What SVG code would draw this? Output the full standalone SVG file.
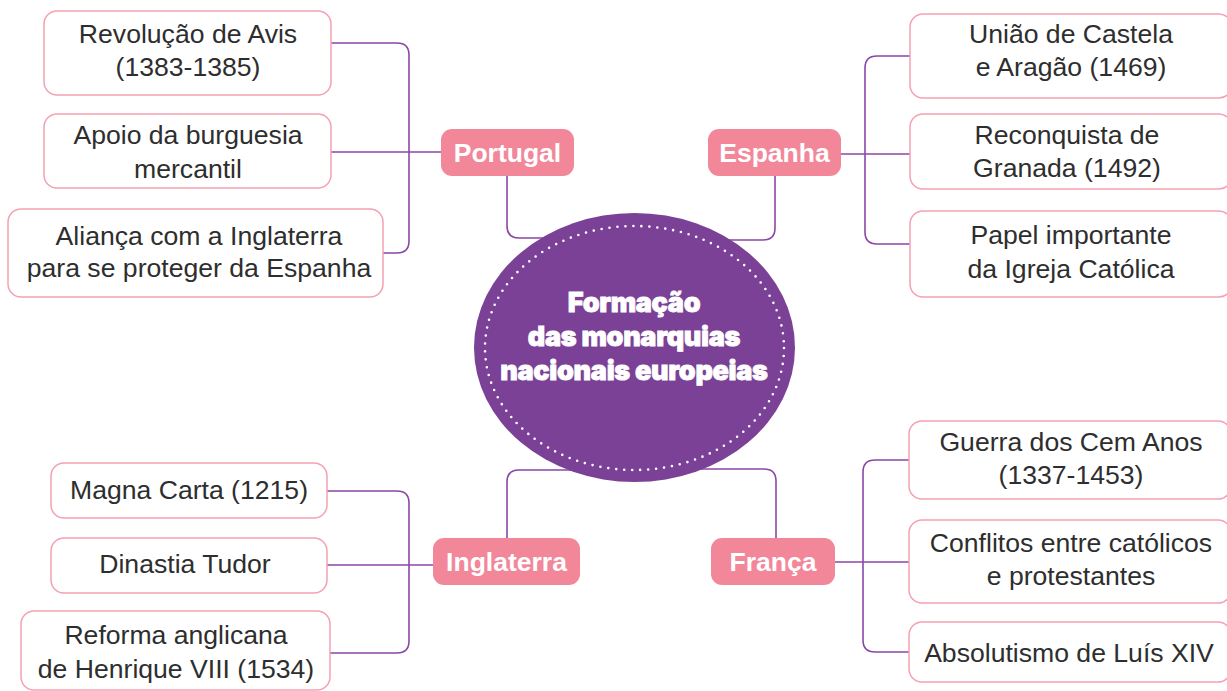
<svg xmlns="http://www.w3.org/2000/svg" width="1227" height="691" viewBox="0 0 1227 691">
<style>
.box{fill:#fff;stroke:#f4a1b2;stroke-width:1.5}
.pill{fill:#f2879a}
.t{font-family:"Liberation Sans",Arial,sans-serif;font-size:26.6px;fill:#2e2e2e;text-anchor:middle}
.pt{font-family:"Liberation Sans",Arial,sans-serif;font-size:26.5px;font-weight:bold;fill:#fff;text-anchor:middle}
.ct{font-family:Inter,"Liberation Sans",sans-serif;font-size:27px;font-weight:900;fill:#fff;stroke:#fff;stroke-width:0.8;text-anchor:middle;letter-spacing:-0.3px}
.c{fill:none;stroke:#8b47a6;stroke-width:1.6}
</style>
<rect width="1227" height="691" fill="#fff"/>
<g id="connectors">
<path class="c" d="M331,43 H397 Q409,43 409,55 V241 Q409,253 397,253 H383"/>
<path class="c" d="M331,152 H441"/>
<path class="c" d="M910,56 H877 Q865,56 865,68 V232 Q865,244 877,244 H910"/>
<path class="c" d="M841,154 H910"/>
<path class="c" d="M327,491 H397 Q409,491 409,503 V641 Q409,653 397,653 H330"/>
<path class="c" d="M327,565 H433"/>
<path class="c" d="M909,460 H875 Q863,460 863,472 V640 Q863,652 875,652 H909"/>
<path class="c" d="M835,562 H909"/>
<path class="c" d="M507,176 V226 Q507,238 519,238 H570"/>
<path class="c" d="M775,176 V228 Q775,240 763,240 H700"/>
<path class="c" d="M507,538 V482 Q507,470 519,470 H600"/>
<path class="c" d="M776,538 V481 Q776,469 764,469 H680"/>
</g>
<g id="center">
<ellipse cx="634.5" cy="347.5" rx="160.5" ry="134.5" fill="#7a4196"/>
<ellipse cx="634.5" cy="348" rx="149.5" ry="122" fill="none" stroke="#fff" stroke-width="2.6" stroke-linecap="round" stroke-dasharray="0 8"/>
<text class="ct" x="634" y="312">Formação</text>
<text class="ct" x="634" y="346">das monarquias</text>
<text class="ct" x="634" y="380">nacionais europeias</text>
</g>
<g id="portugal">
<rect class="pill" x="441" y="129" width="133" height="47" rx="11"/>
<text class="pt" x="507.5" y="162">Portugal</text>
</g>
<g id="espanha">
<rect class="pill" x="708" y="129" width="133" height="47" rx="11"/>
<text class="pt" x="774.5" y="162">Espanha</text>
</g>
<g id="inglaterra">
<rect class="pill" x="433" y="538" width="147" height="47" rx="11"/>
<text class="pt" x="506.5" y="571">Inglaterra</text>
</g>
<g id="franca">
<rect class="pill" x="711" y="538" width="124" height="47" rx="11"/>
<text class="pt" x="773" y="571">França</text>
</g>
<g id="p1"><rect class="box" x="44" y="11" width="287" height="84" rx="13"/><text class="t" x="188" y="43">Revolução de Avis</text><text class="t" x="188" y="76">(1383-1385)</text></g>
<g id="p2"><rect class="box" x="44" y="114" width="287" height="74" rx="13"/><text class="t" x="188" y="144">Apoio da burguesia</text><text class="t" x="188" y="178">mercantil</text></g>
<g id="p3"><rect class="box" x="8" y="209" width="375" height="88" rx="13"/><text class="t" x="199" y="245">Aliança com a Inglaterra</text><text class="t" x="199" y="277">para se proteger da Espanha</text></g>
<g id="e1"><rect class="box" x="910" y="14" width="322" height="84" rx="13"/><text class="t" x="1071" y="43">União de Castela</text><text class="t" x="1071" y="76">e Aragão (1469)</text></g>
<g id="e2"><rect class="box" x="910" y="114" width="322" height="75" rx="13"/><text class="t" x="1067" y="144">Reconquista de</text><text class="t" x="1067" y="177">Granada (1492)</text></g>
<g id="e3"><rect class="box" x="910" y="211" width="322" height="86" rx="13"/><text class="t" x="1071" y="244">Papel importante</text><text class="t" x="1071" y="278">da Igreja Católica</text></g>
<g id="i1"><rect class="box" x="51" y="463" width="276" height="55" rx="13"/><text class="t" x="189" y="499">Magna Carta (1215)</text></g>
<g id="i2"><rect class="box" x="51" y="538" width="276" height="55" rx="13"/><text class="t" x="185" y="573">Dinastia Tudor</text></g>
<g id="i3"><rect class="box" x="21" y="611" width="309" height="79" rx="13"/><text class="t" x="176" y="644">Reforma anglicana</text><text class="t" x="176" y="678">de Henrique VIII (1534)</text></g>
<g id="f1"><rect class="box" x="909" y="421" width="322" height="78" rx="13"/><text class="t" x="1071" y="451">Guerra dos Cem Anos</text><text class="t" x="1071" y="484">(1337-1453)</text></g>
<g id="f2"><rect class="box" x="909" y="520" width="322" height="83" rx="13"/><text class="t" x="1071" y="552">Conflitos entre católicos</text><text class="t" x="1071" y="585">e protestantes</text></g>
<g id="f3"><rect class="box" x="909" y="622" width="322" height="60" rx="13"/><text class="t" x="1069" y="662">Absolutismo de Luís XIV</text></g>
</svg>
